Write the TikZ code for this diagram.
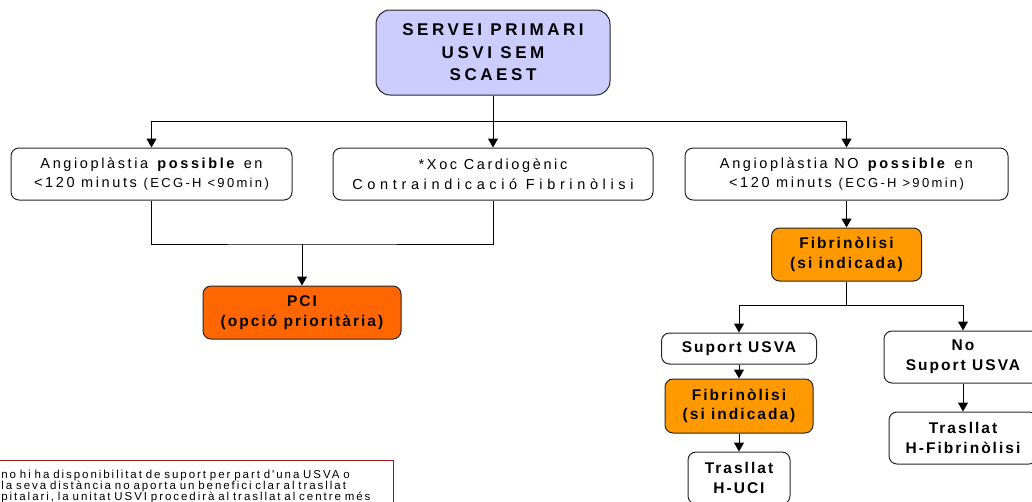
\documentclass[tikz,border=0pt]{standalone}
\usepackage{fontspec}
\setmainfont{Liberation Sans}
\newfontfamily\caixafont[LetterSpace=18]{Liberation Sans}
\newfontfamily\titolfont[LetterSpace=21]{Liberation Sans}
\newfontfamily\negretafont[LetterSpace=13]{Liberation Sans}
\newfontfamily\notafont[LetterSpace=17]{Liberation Sans}
\usetikzlibrary{arrows.meta}
\definecolor{lila}{HTML}{CCCCFF}
\definecolor{taronja}{HTML}{FF9900}
\definecolor{vermell}{HTML}{FF6600}
\definecolor{granat}{HTML}{A01818}
\tikzset{
  caixa/.style={draw=black!85, line width=1pt, rounded corners=8pt, align=center, inner sep=0pt,
    font=\caixafont\fontsize{14.5}{19.5}\selectfont},
  negreta/.style={caixa, font=\negretafont\bfseries\fontsize{15.5}{19.5}\selectfont},
  titol/.style={caixa, fill=lila, rounded corners=14pt, font=\titolfont\bfseries\fontsize{17}{22.5}\selectfont},
  nota/.style={draw=granat, line width=0.8pt, align=left, inner xsep=11pt, inner ysep=9.5pt,
    text width=381pt, font=\notafont\fontsize{11.5}{11.2}\selectfont},
  fletxa/.style={-{Triangle[width=10pt,length=9pt]}, line width=1pt},
  linia/.style={line width=1pt}
}
\newcommand{\petit}[1]{{\fontsize{13}{19.5}\selectfont #1}}
\begin{document}
\begin{tikzpicture}[x=1pt,y=-1pt]
\useasboundingbox (0,0) rectangle (1032,501);
\clip (0,0) rectangle (1032,501);
\node[titol, minimum width=234pt, minimum height=85pt] (servei) at (493,52.5) {SERVEI PRIMARI\\USVI SEM\\SCAEST};
\node[caixa, minimum width=281pt, minimum height=52pt] (angA) at (151.5,174) {Angioplàstia \textbf{possible} en\\<120 minuts \petit{(ECG-H <90min)}};
\node[caixa, minimum width=320pt, minimum height=52pt] (xoc) at (493,174) {*Xoc Cardiogènic\\{\addfontfeatures{LetterSpace=32}Contraindicació Fibrinòlisi}};
\node[caixa, minimum width=323pt, minimum height=52pt] (angC) at (846.5,174) {Angioplàstia NO \textbf{possible} en\\<120 minuts \petit{(ECG-H >90min)}};
\node[negreta, fill=vermell, minimum width=198pt, minimum height=53pt] (pci) at (302,312.5) {PCI\\(opció prioritària)};
\node[negreta, fill=taronja, minimum width=150pt, minimum height=53pt] (fib1) at (846.5,254.5) {Fibrinòlisi\\(si indicada)};
\node[negreta, minimum width=155pt, minimum height=31pt] (suport) at (739,348.5) {Suport USVA};
\node[negreta, minimum width=158pt, minimum height=52pt] (nosuport) at (963,357) {No\\Suport USVA};
\node[negreta, fill=taronja, minimum width=148pt, minimum height=54pt] (fib2) at (739,406) {Fibrinòlisi\\(si indicada)};
\node[negreta, minimum width=102pt, minimum height=52pt] (huci) at (739,478) {Trasllat\\H-UCI};
\node[negreta, minimum width=148pt, minimum height=52pt] (hfib) at (963,438) {Trasllat\\H-Fibrinòlisi};
\node[nota, anchor=north west] (nota) at (-10,460) {no hi ha disponibilitat de suport per part d'una USVA o\\la seva distància no aporta un benefici clar al trasllat\\pitalari, la unitat USVI procedirà al trasllat al centre més};
\coordinate (bus) at (493,121);
\coordinate (unio) at (302,244);
\coordinate (branca) at (846.5,305);
\draw[linia] (servei.south) -- (bus);
\draw[fletxa] (bus) -| (angA.north);
\draw[fletxa] (bus) -- (xoc.north);
\draw[fletxa] (bus) -| (angC.north);
\draw[linia] (angA.south) |- (unio) -| (xoc.south);
\draw[fletxa] (unio) -- (pci.north);
\draw[fletxa] (angC.south) -- (fib1.north);
\draw[linia] (fib1.south) -- (branca);
\draw[fletxa] (branca) -| (suport.north);
\draw[fletxa] (branca) -| (nosuport.north);
\draw[fletxa] (suport.south) -- (fib2.north);
\draw[fletxa] (fib2.south) -- (huci.north);
\draw[fletxa] (nosuport.south) -- (hfib.north);
\end{tikzpicture}
\end{document}
